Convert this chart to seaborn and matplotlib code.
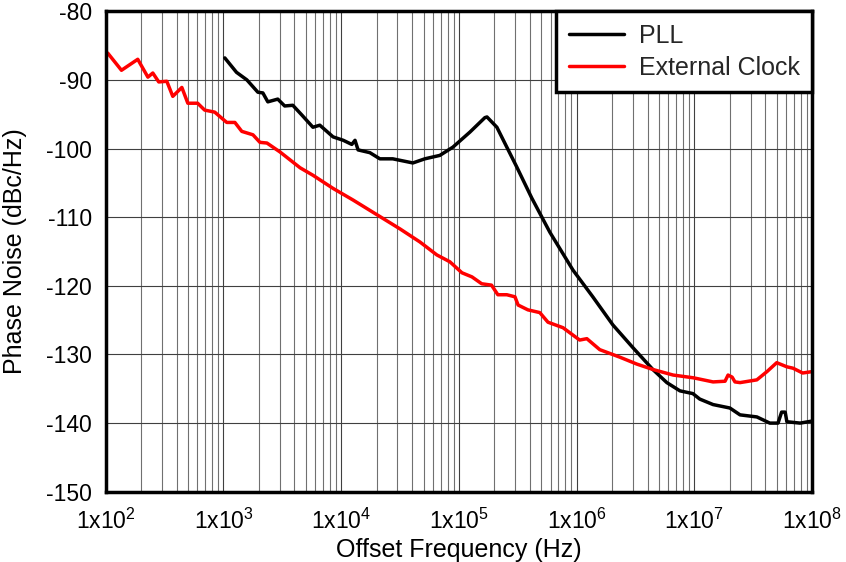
import matplotlib
matplotlib.use("Agg")
import matplotlib.pyplot as plt
import numpy as np
import pandas as pd
import seaborn as sns
from matplotlib.ticker import LogLocator, FixedLocator, NullFormatter

# PLL phase noise
pll_freq = [1026, 1290, 1580, 1960, 2160, 2380, 2890, 3310, 3880, 4620, 5750, 6580,
            8520, 10400, 12300, 13100, 13900, 17500, 21300, 27400, 40600, 51300,
            68800, 88800, 124000, 166000, 173000, 210000, 255000, 310000, 415000,
            592000, 929000, 1.37e6, 2.03e6, 3.0e6, 4.44e6, 5.83e6, 7.53e6, 9.7e6,
            1.11e7, 1.44e7, 2.0e7, 2.44e7, 3.39e7, 4.37e7, 5.13e7, 5.5e7, 5.9e7,
            6.1e7, 7.9e7, 1e8]
pll_noise = [-86.8, -88.9, -90.0, -91.8, -91.9, -93.2, -92.8, -93.8, -93.7, -95.1,
             -96.9, -96.6, -98.3, -98.8, -99.4, -98.8, -100.2, -100.6, -101.5,
             -101.5, -102.1, -101.5, -101.0, -99.8, -97.6, -95.5, -95.4, -96.9,
             -99.8, -102.7, -107.2, -112.2, -117.7, -121.6, -125.7, -129.0, -132.2,
             -134.1, -135.3, -135.7, -136.5, -137.3, -137.8, -138.8, -139.1, -140.0,
             -140.0, -138.4, -138.4, -139.8, -140.0, -139.7]

# External clock phase noise
ext_freq = [104, 136, 187, 228, 251, 282, 330, 371, 443, 498, 603, 692, 843, 1066,
            1250, 1430, 1780, 2040, 2340, 3020, 4470, 5760, 8510, 12600, 31500,
            46500, 64900, 83700, 106000, 129000, 156000, 189000, 214000, 255000,
            299000, 318000, 385000, 486000, 570000, 765000, 1.06e6, 1.22e6, 1.57e6,
            2.33e6, 3.24e6, 4.46e6, 6.6e6, 9.8e6, 1.44e7, 1.82e7, 1.93e7, 2.09e7,
            2.21e7, 2.44e7, 3.39e7, 4.13e7, 5.0e7, 6.1e7, 6.87e7, 8.3e7, 1e8]
ext_noise = [-86.1, -88.6, -87.0, -89.6, -89.0, -90.3, -90.2, -92.4, -91.1, -93.4,
             -93.4, -94.4, -94.7, -96.2, -96.2, -97.5, -98.0, -99.1, -99.2, -100.5,
             -102.8, -103.9, -105.8, -107.5, -111.7, -113.6, -115.5, -116.5, -118.1,
             -118.7, -119.7, -119.9, -121.3, -121.3, -121.6, -122.8, -123.5, -123.9,
             -125.3, -126.1, -127.9, -127.7, -129.3, -130.4, -131.4, -132.2, -133.0,
             -133.4, -134.0, -133.9, -133.0, -133.3, -134.0, -134.1, -133.7, -132.5,
             -131.2, -131.8, -132.0, -132.7, -132.5]

x_ticks = [1e2, 1e3, 1e4, 1e5, 1e6, 1e7, 1e8]
x_labels = ["1x10$^{%d}$" % e for e in range(2, 9)]
y_ticks = list(range(-150, -79, 10))

sns.set_theme(style="white")
plt.rcParams["font.family"] = ["Liberation Sans", "DejaVu Sans"]
plt.rcParams["mathtext.default"] = "regular"
plt.rcParams["axes.unicode_minus"] = False

fig, ax = plt.subplots(figsize=(8.46, 5.62), dpi=100)
fig.subplots_adjust(left=0.125, right=0.96, top=0.98, bottom=0.125)

sns.lineplot(x=pll_freq, y=pll_noise, ax=ax, color="black", lw=2.5, label="PLL")
sns.lineplot(x=ext_freq, y=ext_noise, ax=ax, color="#ff0000", lw=2.5,
             label="External Clock")

ax.set_xscale("log")
ax.set_xlim(1e2, 1e8)
ax.set_ylim(-150, -80)
ax.xaxis.set_major_locator(FixedLocator(x_ticks))
ax.set_xticklabels(x_labels)
ax.xaxis.set_minor_locator(LogLocator(base=10, subs=np.arange(2, 10), numticks=100))
ax.xaxis.set_minor_formatter(NullFormatter())
ax.set_yticks(y_ticks)

ax.grid(which="major", color="#404040", lw=0.8)
ax.grid(which="minor", axis="x", color="#707070", lw=0.8)
ax.set_axisbelow(True)

for sp in ax.spines.values():
    sp.set_color("black")
    sp.set_linewidth(2.5)

ax.tick_params(axis="both", which="both", length=0, labelsize=16.5, colors="black")
ax.tick_params(axis="x", pad=12)
ax.tick_params(axis="y", pad=10)
ax.set_xlabel("Offset Frequency (Hz)", fontsize=18, color="black", labelpad=3)
ax.set_ylabel("Phase Noise (dBc/Hz)", fontsize=18, color="black", labelpad=14)

leg = ax.legend(loc="upper right", fontsize=18, frameon=True, fancybox=False,
                borderaxespad=0, handlelength=2.2, handletextpad=0.6,
                borderpad=0.5, labelspacing=0.32)
leg.get_frame().set_edgecolor("black")
leg.get_frame().set_linewidth(2.5)
leg.get_frame().set_alpha(1)

fig.savefig("out.png", dpi=100)
